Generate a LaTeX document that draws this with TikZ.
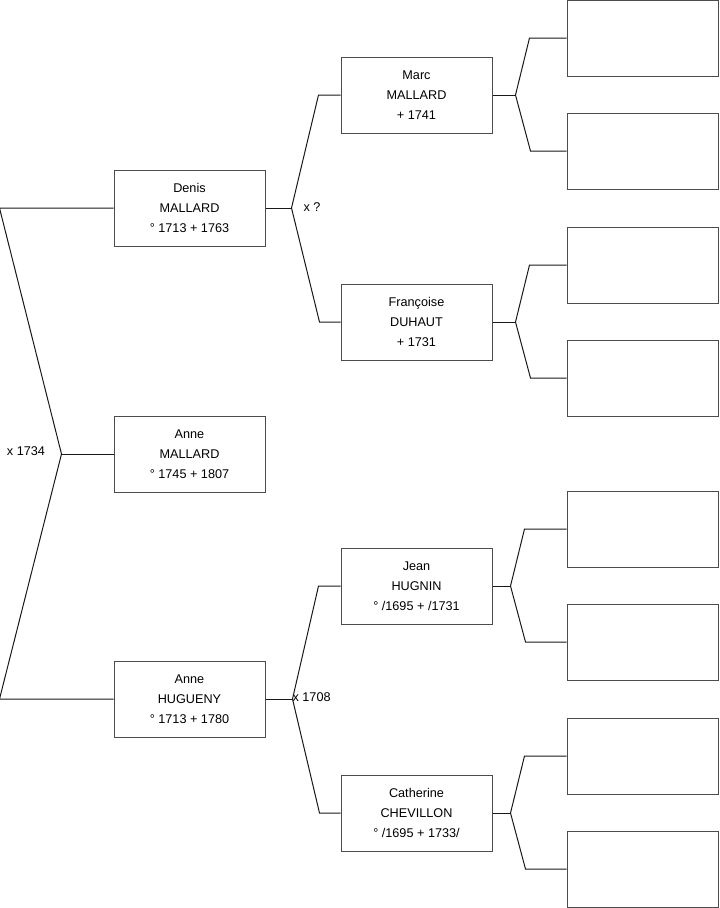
\documentclass[tikz,border=0pt]{standalone}
\usepackage{fontspec}
\setmainfont{Liberation Sans}
\usetikzlibrary{positioning}

\begin{document}
\begin{tikzpicture}[
  x=0.75pt, y=-0.75pt,
  person/.style={draw=black!70, line width=0.75pt, minimum width=113.25pt, minimum height=57pt, inner sep=0pt, align=center, font=\fontsize{9.5}{15}\selectfont},
  emptybox/.style={draw=black!70, line width=0.75pt, minimum width=113.25pt, minimum height=57pt, inner sep=0pt},
  link/.style={draw=black!90, line width=0.75pt},
  union/.style={inner sep=1pt, font=\fontsize{9.5}{11}\selectfont}
]
\useasboundingbox (0,0) rectangle (719,908);

% generations 1 to 3
\node[person] (anne) at (189.5,454) {Anne\\MALLARD\\° 1745 + 1807};
\node[person] (denis) at (189.5,208) {Denis\\MALLARD\\° 1713 + 1763};
\node[person] (hugueny) at (189.5,699) {Anne\\HUGUENY\\° 1713 + 1780};
\node[person] (marc) at (416.5,95) {Marc\\MALLARD\\+ 1741};
\node[person] (francoise) at (416.5,322) {Françoise\\DUHAUT\\+ 1731};
\node[person] (jean) at (416.5,586) {Jean\\HUGNIN\\° /1695 + /1731};
\node[person] (catherine) at (416.5,813) {Catherine\\CHEVILLON\\° /1695 + 1733/};

% generation 4, left empty
\foreach \y [count=\i] in {38,151,265,378,529,642,756,869}
  \node[emptybox] (g\i) at (642.5,\y) {};

% unions
\node[union] (m0) at (26,451) {x 1734};
\node[union, right] (m1) at (302,207) {x ?};
\node[union, right] (m2) at (291,697) {x 1708};

% forks
\draw[link] (anne.west) -- ++(-52,0) coordinate (f0);
\draw[link] (denis.west) -- ++(-114,0) -- (f0) -- ++(-62,245) -- (hugueny.west);

\draw[link] (denis.east) -- ++(26,0) coordinate (f1);
\draw[link] (marc.west) -- ++(-22,0) -- (f1) -- ++(28,114) -- (francoise.west);
\draw[link] (hugueny.east) -- ++(27,0) coordinate (f2);
\draw[link] (jean.west) -- ++(-22,0) -- (f2) -- ++(27,114) -- (catherine.west);

\draw[link] (marc.east) -- ++(23,0) coordinate (f3);
\draw[link] (g1.west) -- ++(-37,0) -- (f3) -- ++(15,56) -- (g2.west);
\draw[link] (francoise.east) -- ++(23,0) coordinate (f4);
\draw[link] (g3.west) -- ++(-37,0) -- (f4) -- ++(15,56) -- (g4.west);
\draw[link] (jean.east) -- ++(18,0) coordinate (f5);
\draw[link] (g5.west) -- ++(-42,0) -- (f5) -- ++(15,56) -- (g6.west);
\draw[link] (catherine.east) -- ++(18,0) coordinate (f6);
\draw[link] (g7.west) -- ++(-42,0) -- (f6) -- ++(15,56) -- (g8.west);
\end{tikzpicture}
\end{document}
